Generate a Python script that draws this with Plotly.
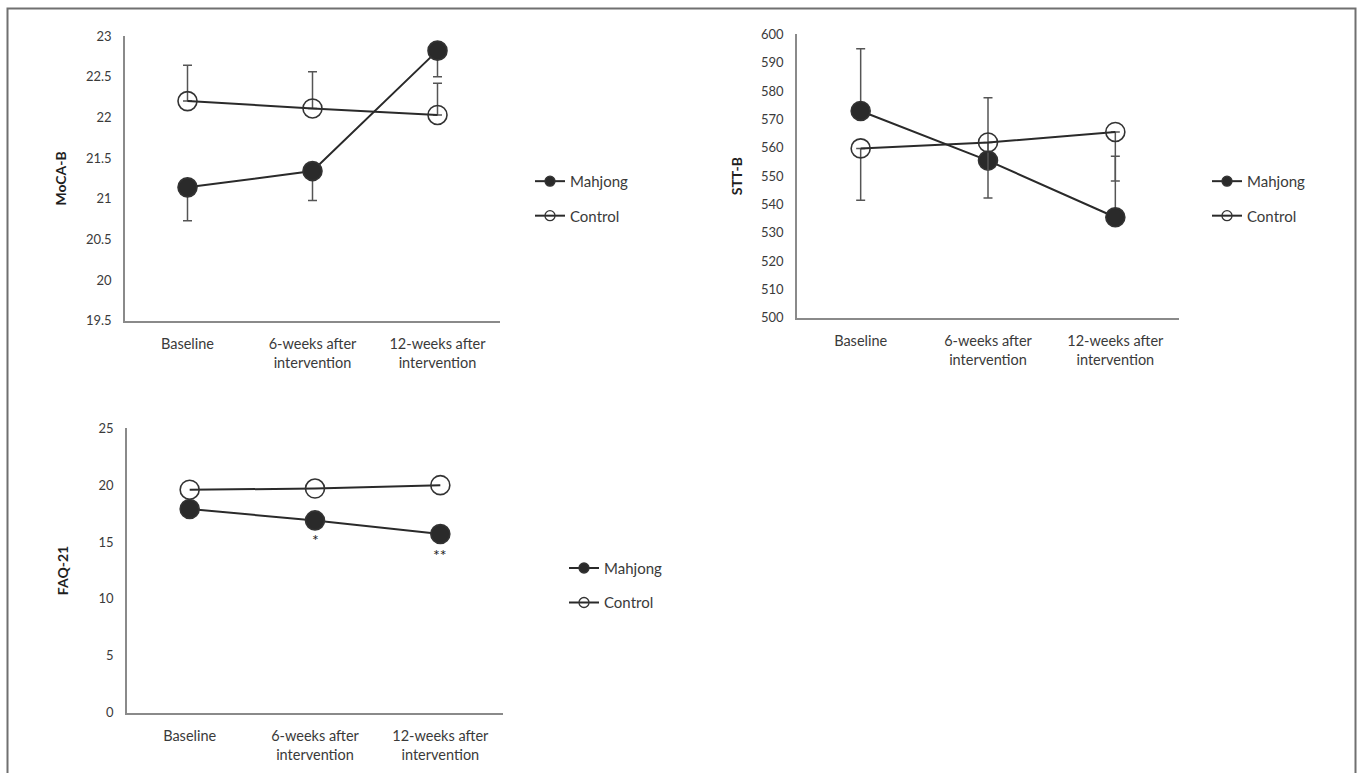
import plotly.graph_objects as go

categories = ["Baseline", "6-weeks after<br>intervention", "12-weeks after<br>intervention"]
series_names = ["Mahjong", "Control"]

# MoCA-B
moca_mahjong = [21.14, 21.34, 22.82]
moca_control = [22.20, 22.11, 22.03]
moca_mahjong_err_minus = [0.41, 0.36, 0.32]
moca_control_err_plus = [0.44, 0.45, 0.39]

# STT-B
stt_mahjong = [573.0, 555.5, 535.5]
stt_control = [559.8, 561.9, 565.6]
stt_mahjong_err_plus = [22.0, 22.2, 21.5]
stt_control_err_minus = [18.3, 19.6, 17.3]

# FAQ-21
faq_mahjong = [17.9, 16.9, 15.7]
faq_control = [19.6, 19.7, 20.0]
faq_marks = ["*", "**"]
faq_mark_cats = [1, 2]
faq_mark_y = [15.2, 13.9]

W, H = 1357, 781
FONT = "Lato"
LINE = "#2a2a2a"
AXIS = "#8a8a8a"
TXT = "#3a3a3a"

# the page is shown with an 8px top offset and a 0.98 vertical factor
def px_x(p):
    return p / W

def px_y(p):
    return 1 - ((p - 8) / 0.98) / H

fig = go.Figure()

panels = [
    dict(xa="x", ya="y", leg="legend", m=moca_mahjong, c=moca_control,
         em=dict(type="data", symmetric=False, array=[0, 0, 0], arrayminus=moca_mahjong_err_minus),
         ec=dict(type="data", symmetric=False, array=moca_control_err_plus, arrayminus=[0, 0, 0])),
    dict(xa="x2", ya="y2", leg="legend2", m=stt_mahjong, c=stt_control,
         em=dict(type="data", symmetric=False, array=stt_mahjong_err_plus, arrayminus=[0, 0, 0]),
         ec=dict(type="data", symmetric=False, array=[0, 0, 0], arrayminus=stt_control_err_minus)),
    dict(xa="x3", ya="y3", leg="legend3", m=faq_mahjong, c=faq_control, em=None, ec=None),
]

for p in panels:
    for name, vals, err, filled in [(series_names[0], p["m"], p["em"], True),
                                    (series_names[1], p["c"], p["ec"], False)]:
        e = dict(visible=False)
        if err is not None:
            e = dict(err, visible=True, color="#555555", thickness=1.5, width=4.5)
        fig.add_trace(go.Scatter(
            x=categories, y=vals, xaxis=p["xa"], yaxis=p["ya"],
            mode="lines+markers", showlegend=False, cliponaxis=False,
            line=dict(color=LINE, width=2),
            marker=dict(symbol="circle" if filled else "circle-open", size=19,
                        color=LINE if filled else "#333333",
                        line=dict(width=1.6, color="#333333")),
            error_y=e,
        ))
    # legend entries
    for gi, (name, filled) in enumerate([(series_names[0], True), (series_names[1], False)]):
        fig.add_trace(go.Scatter(
            x=[None], y=[None], xaxis=p["xa"], yaxis=p["ya"], name=name,
            legend=p["leg"], legendgroup=f"{p['leg']}_{gi}",
            mode="lines+markers",
            line=dict(color=LINE, width=2),
            marker=dict(symbol="circle" if filled else "circle-open", size=10,
                        color=LINE if filled else "#333333",
                        line=dict(width=1.3, color="#333333")),
        ))

for txt, ci, yv in zip(faq_marks, faq_mark_cats, faq_mark_y):
    fig.add_annotation(x=categories[ci], y=yv, xref="x3", yref="y3", text=txt,
                       showarrow=False, font=dict(family=FONT, size=16, color="#222"))

def xax(d0, d1):
    return dict(domain=[px_x(d0), px_x(d1)], type="category", range=[-0.5, 2.5],
                showline=True, linecolor=AXIS, linewidth=1.5, showgrid=False,
                zeroline=False, ticks="", ticklabelstandoff=9,
                tickfont=dict(family=FONT, size=14.5, color=TXT))

def yax(d0, d1, rng, dt, title, standoff):
    return dict(domain=[px_y(d1), px_y(d0)], range=rng, dtick=dt,
                showline=True, linecolor=AXIS, linewidth=1.5, showgrid=False,
                zeroline=False, ticks="", ticklabelstandoff=9,
                tickfont=dict(family=FONT, size=13, color=TXT),
                title=dict(text=f"<b>{title}</b>", standoff=standoff,
                           font=dict(family=FONT, size=14, color="#1e1e1e")))

leg_common = dict(font=dict(family=FONT, size=15, color=TXT), bgcolor="rgba(0,0,0,0)",
                  tracegroupgap=12, itemwidth=30, xanchor="left", yanchor="top")

fig.update_layout(
    width=W, height=H, margin=dict(l=0, r=0, t=0, b=0),
    paper_bgcolor="white", plot_bgcolor="white",
    font=dict(family=FONT, size=13, color=TXT),
    xaxis=dict(xax(125, 500), anchor="y"),
    yaxis=dict(yax(36, 321, [19.5, 23], 0.5, "MoCA-B", 16), anchor="x"),
    xaxis2=dict(xax(797, 1179), anchor="y2"),
    yaxis2=dict(yax(34.5, 318, [500, 600], 10, "STT-B", 15), anchor="x2"),
    xaxis3=dict(xax(127, 503), anchor="y3"),
    yaxis3=dict(yax(428.5, 713, [0, 25], 5, "FAQ-21", 27), anchor="x3"),
    legend=dict(leg_common, x=px_x(530), y=px_y(165)),
    legend2=dict(leg_common, x=px_x(1207), y=px_y(165)),
    legend3=dict(leg_common, x=px_x(564), y=px_y(552)),
    shapes=[dict(type="path", xref="paper", yref="paper",
                 path=f"M {px_x(7.5)} 0 L {px_x(7.5)} 0.9995 L {px_x(1355.5)} 0.9995 L {px_x(1355.5)} 0",
                 line=dict(color="#707070", width=2))],
)

fig.write_html("out.html", config={"displayModeBar": False},
               post_script="document.body.style.margin='0';document.body.style.overflow='hidden';")
